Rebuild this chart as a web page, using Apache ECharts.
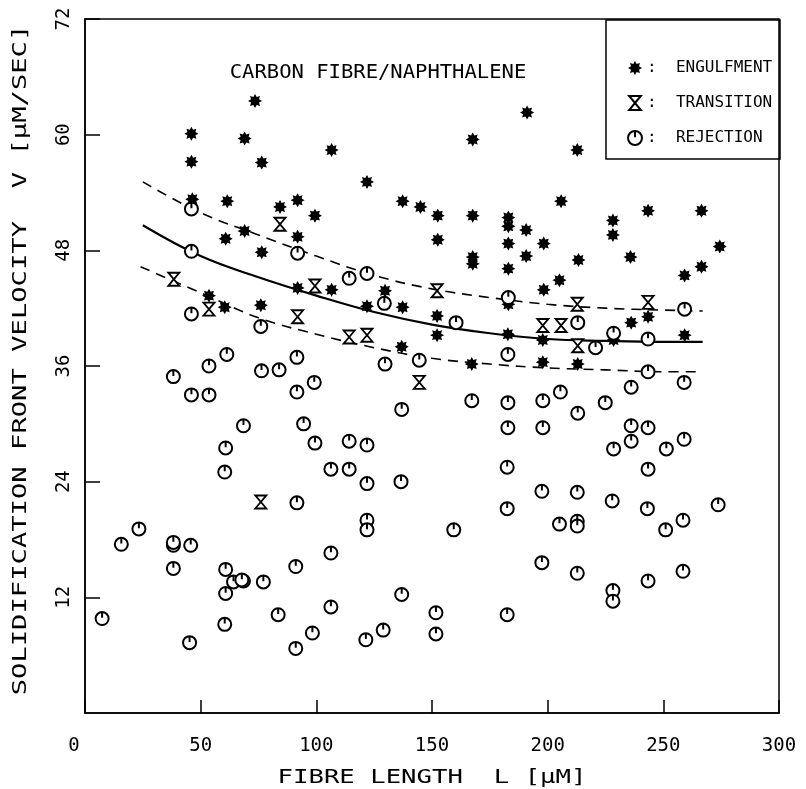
<!DOCTYPE html>
<html><head><meta charset="utf-8">
<script src="https://cdn.jsdelivr.net/npm/echarts@6/dist/echarts.min.js"></script>
<style>html,body{margin:0;padding:0;background:#fff}#c{width:806px;height:789px}</style>
</head><body><div id="c"></div>
<script>
// ---- data (L in µm, V in µm/sec) ----
const engulfmentPoints = [
 [73.5,63.5],[46,60.1],[69,59.6],[46,57.2],[76.4,57.1],[46.4,53.3],[61.5,53.1],[69,50],[60.8,49.2],[76.4,47.8],[53.6,43.3],[60.4,42.1],[76,42.3],
 [106.6,58.4],[121.9,55.1],[84.3,52.5],[91.9,53.2],[99.4,51.6],[91.9,49.4],[137.3,53.1],[145,52.5],[152.5,51.6],[152.5,49.1],[91.9,44.1],[106.6,43.9],[129.7,43.8],[121.9,42.2],[137.3,42.1],
 [191.1,62.3],[167.6,59.5],[212.8,58.4],[205.8,53.1],[167.6,51.6],[183,51.4],[183,50.5],[190.7,50.1],[183,48.7],[198.3,48.7],[190.7,47.4],[167.6,47.3],[167.6,46.6],[183,46.1],[213.3,47.0],[228.2,51.1],[228.2,49.6],[243.4,52.1],[266.5,52.1],[235.8,47.3],[274.4,48.4],[266.5,46.3],[259.2,45.4],[198.3,43.9],[205.1,44.9],[183,42.4],
 [243.4,41.1],[236.1,40.5],[182.8,39.3],[197.9,38.7],[228.5,38.7],[259.2,39.2],[167.2,36.2],[197.9,36.4],[213,36.2],
 [152.2,41.2],[152.2,39.2],[136.9,38.0]
];
const transitionPoints = [
 [38.4,45],[53.6,41.9],[84.3,50.7],[99.4,44.3],[152.2,43.8],[212.8,42.4],[243.4,42.6],[91.9,41.1],[114.2,39.0],[121.9,39.2],[144.5,34.3],[197.9,40.2],[205.8,40.2],[213,38.1],[76,21.9]
];
const rejectionPoints = [
 [46,52.3],[46,47.9],[91.9,47.7],[114.2,45.1],[121.9,45.6],[129.4,42.5],[183,43.1],[259.2,41.9],[46,41.4],[76,40.1],[160.4,40.5],[213,40.5],[228.5,39.4],[243.4,38.8],[220.7,37.9],[182.8,37.2],
 [61.3,37.2],[53.6,36.0],[38.2,34.9],[46,33.0],[53.6,33.0],[76.3,35.5],[68.5,29.8],[60.8,27.5],[60.4,25.0],
 [91.6,36.9],[83.9,35.6],[99.1,34.3],[91.6,33.3],[129.7,36.2],[144.5,36.6],[136.9,31.5],[94.5,30.0],[99.4,28.0],[114.2,28.2],[121.9,27.8],[106.3,25.3],[114.2,25.3],[121.9,23.8],[136.6,24.0],[91.6,21.8],
 [243.4,35.4],[259,34.3],[236.1,33.8],[167.2,32.4],[182.8,32.2],[197.9,32.4],[205.5,33.3],[213,31.1],[224.9,32.2],[182.8,29.6],[197.9,29.6],[236.1,29.8],[243.4,29.6],[228.5,27.4],[236.1,28.2],[251.3,27.4],[259,28.4],[182.5,25.5],[243.4,25.3],[197.5,23.0],[212.8,22.9],[227.9,22.0],[182.5,21.2],[243.1,21.2],[273.7,21.6],
 [159.4,19.0],[205.1,19.6],[212.8,19.9],[212.8,19.4],[251,19.0],[258.5,20.0],[197.5,15.6],[212.8,14.5],[228.2,12.7],[228.2,11.6],[243.4,13.7],[258.5,14.7],[182.5,10.2],
 [121.9,20.0],[121.9,19.0],[106.3,16.6],[91.1,15.2],[77.1,13.6],[136.9,12.3],[151.7,10.4],[151.7,8.2],[83.5,10.2],[106.3,11.0],[98.3,8.3],[91.1,6.7],[121.4,7.6],[128.9,8.6],
 [15.7,17.5],[23.3,19.1],[38.2,17.4],[38.2,17.7],[38.2,15.0],[45.7,17.4],[7.4,9.8],[45.2,7.3],[60.8,14.9],[64.2,13.6],[68.5,13.7],[67.8,13.8],[60.8,12.4],[60.4,9.2]
];
const meanCurve  = [[25,50.6],[50,47.4],[75,45.2],[100,43.3],[125,41.6],[150,40.3],[175,39.4],[200,38.8],[225,38.6],[250,38.5],[267,38.5]];
const upperCurve = [[25,55.1],[50,51.9],[75,49.6],[100,47.4],[125,45.4],[150,44.0],[175,43.1],[200,42.4],[225,42.0],[250,41.8],[267,41.7]];
const lowerCurve = [[24,46.3],[50,43.6],[75,41.0],[100,39.3],[125,37.9],[150,36.8],[175,36.2],[200,35.8],[225,35.6],[250,35.4],[267,35.4]];
const seriesNames = ['ENGULFMENT','TRANSITION','REJECTION'];
const chartTitle = 'CARBON FIBRE/NAPHTHALENE';
const xTitle = 'FIBRE LENGTH  L [\u00B5M]';
const yTitle = 'SOLIDIFICATION FRONT VELOCITY  V [\u00B5M/SEC]';

// ---- styling ----
const FONT = "'DejaVu Sans Mono', monospace";
function starPath(){
  let d='';
  for(let i=0;i<16;i++){
    const a=i*Math.PI/8-Math.PI/2, r=(i%2)?6.2:10;
    d+=(i?'L':'M')+(10+r*Math.cos(a)).toFixed(2)+','+(10+r*Math.sin(a)).toFixed(2)+' ';
  }
  return 'path://'+d+'Z';
}
const STAR = starPath();
const HOURGLASS = 'path://M0,0 L10,0 L0,12 L10,12 Z';
const RING = 'path://M10,1 A9,9 0 1,1 10,19 A9,9 0 1,1 10,1 Z M10,1 L10,9';

const chart = echarts.init(document.getElementById('c'), null, {renderer:'canvas'});
chart.setOption({
  backgroundColor:'#fff',
  animation:false,
  grid:{left:85,right:27,top:19,bottom:76,show:true,borderColor:'#000',borderWidth:1.5,backgroundColor:'transparent'},
  xAxis:{type:'value',min:0,max:300,interval:50,
    axisLine:{lineStyle:{color:'#000',width:1.5}},
    axisTick:{inside:true,length:13,lineStyle:{color:'#000',width:1.5}},
    splitLine:{show:false},
    axisLabel:{color:'#000',fontFamily:FONT,fontSize:19,margin:24,
      formatter:v=>v===0?'{z|0}':String(v),
      rich:{z:{fontFamily:FONT,fontSize:19,color:'#000',padding:[0,22,0,0]}}}},
  yAxis:{type:'value',min:0,max:72,interval:12,
    axisLine:{show:true,lineStyle:{color:'#000',width:1.5}},
    axisTick:{show:true,inside:true,length:15,lineStyle:{color:'#000',width:1.5}},
    splitLine:{show:false},
    axisLabel:{color:'#000',fontFamily:FONT,fontSize:19,margin:11,rotate:90,showMinLabel:false}},
  legend:{data:seriesNames,orient:'vertical',left:622,top:55,itemWidth:14,itemHeight:14,itemGap:19,
    selectedMode:false,formatter:n=>':  '+n,
    textStyle:{fontFamily:FONT,fontSize:16,color:'#000',lineHeight:16}},
  graphic:[
    {type:'rect',shape:{x:606,y:20,width:174,height:139},style:{fill:'none',stroke:'#000',lineWidth:1.5},z:10},
    {type:'text',x:378,y:73,scaleX:1.08,style:{text:chartTitle,font:'19px '+FONT,fill:'#000',align:'center',verticalAlign:'middle'}},
    {type:'text',x:432,y:778,scaleX:1.35,style:{text:xTitle,font:'19px '+FONT,fill:'#000',align:'center',verticalAlign:'middle'}},
    {type:'text',x:21,y:360,rotation:Math.PI/2,scaleX:1.43,style:{text:yTitle,font:'19px '+FONT,fill:'#000',align:'center',verticalAlign:'middle'}}
  ],
  series:[
    {type:'line',data:meanCurve,smooth:0.4,symbol:'none',z:1,lineStyle:{color:'#000',width:2.2}},
    {type:'line',data:upperCurve,smooth:0.4,symbol:'none',z:1,lineStyle:{color:'#000',width:1.6,type:[10,7]}},
    {type:'line',data:lowerCurve,smooth:0.4,symbol:'none',z:1,lineStyle:{color:'#000',width:1.6,type:[10,7]}},
    {name:seriesNames[0],type:'scatter',data:engulfmentPoints,symbol:STAR,symbolSize:14,z:3,
      itemStyle:{color:'#000',opacity:1}},
    {name:seriesNames[1],type:'scatter',data:transitionPoints,symbol:HOURGLASS,symbolSize:[11,13],z:3,
      itemStyle:{color:'#fff',borderColor:'#000',borderWidth:1.8,opacity:1}},
    {name:seriesNames[2],type:'scatter',data:rejectionPoints,symbol:RING,symbolSize:13,z:3,
      itemStyle:{color:'#fff',borderColor:'#000',borderWidth:2,opacity:1}}
  ]
});
</script></body></html>
